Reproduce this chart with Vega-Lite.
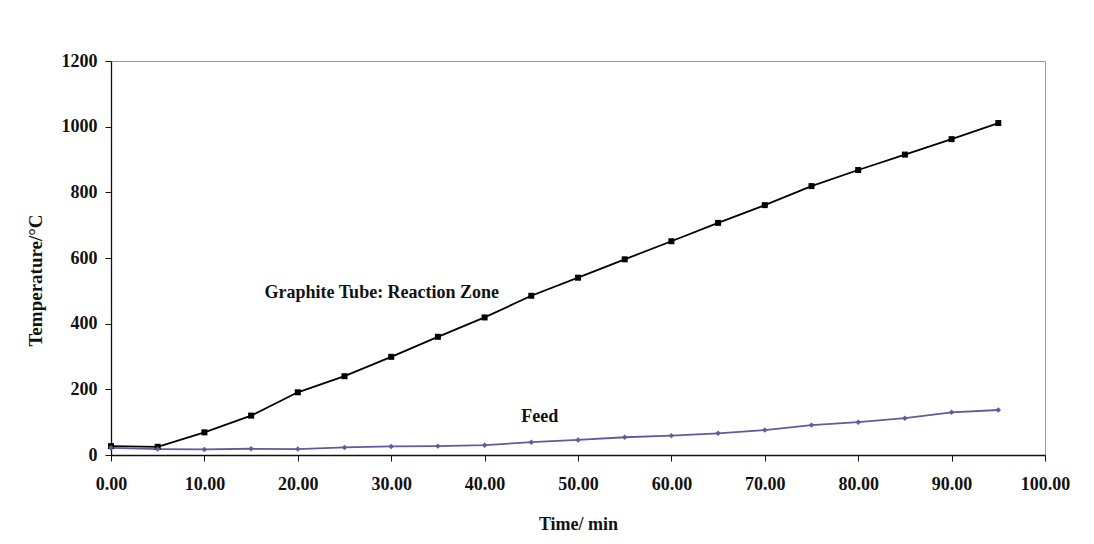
{
  "$schema": "https://vega.github.io/schema/vega-lite/v6.json",
  "width": 934,
  "height": 394,
  "autosize": "none",
  "padding": {"left": 111, "top": 61, "right": 49, "bottom": 89},
  "background": "white",
  "config": {
    "view": {"stroke": "#9a9a9a", "strokeWidth": 1},
    "font": "Liberation Serif",
    "axis": {
      "labelFont": "Liberation Serif",
      "labelFontWeight": "bold",
      "labelFontSize": 18,
      "labelColor": "#111",
      "labelFlush": false,
      "titleFont": "Liberation Serif",
      "titleFontWeight": "bold",
      "titleFontSize": 18,
      "titleColor": "#111",
      "domainColor": "#111",
      "domainWidth": 1.3,
      "tickColor": "#111",
      "tickSize": 6,
      "grid": false
    }
  },
  "datasets": {
    "temps": [
      {"time": 0, "temp": 27, "series": "Graphite Tube: Reaction Zone"},
      {"time": 5, "temp": 25, "series": "Graphite Tube: Reaction Zone"},
      {"time": 10, "temp": 69, "series": "Graphite Tube: Reaction Zone"},
      {"time": 15, "temp": 120, "series": "Graphite Tube: Reaction Zone"},
      {"time": 20, "temp": 191, "series": "Graphite Tube: Reaction Zone"},
      {"time": 25, "temp": 240, "series": "Graphite Tube: Reaction Zone"},
      {"time": 30, "temp": 299, "series": "Graphite Tube: Reaction Zone"},
      {"time": 35, "temp": 360, "series": "Graphite Tube: Reaction Zone"},
      {"time": 40, "temp": 419, "series": "Graphite Tube: Reaction Zone"},
      {"time": 45, "temp": 485, "series": "Graphite Tube: Reaction Zone"},
      {"time": 50, "temp": 540, "series": "Graphite Tube: Reaction Zone"},
      {"time": 55, "temp": 596, "series": "Graphite Tube: Reaction Zone"},
      {"time": 60, "temp": 651, "series": "Graphite Tube: Reaction Zone"},
      {"time": 65, "temp": 707, "series": "Graphite Tube: Reaction Zone"},
      {"time": 70, "temp": 761, "series": "Graphite Tube: Reaction Zone"},
      {"time": 75, "temp": 819, "series": "Graphite Tube: Reaction Zone"},
      {"time": 80, "temp": 868, "series": "Graphite Tube: Reaction Zone"},
      {"time": 85, "temp": 915, "series": "Graphite Tube: Reaction Zone"},
      {"time": 90, "temp": 962, "series": "Graphite Tube: Reaction Zone"},
      {"time": 95, "temp": 1011, "series": "Graphite Tube: Reaction Zone"},
      {"time": 0, "temp": 22, "series": "Feed"},
      {"time": 5, "temp": 18, "series": "Feed"},
      {"time": 10, "temp": 17, "series": "Feed"},
      {"time": 15, "temp": 19, "series": "Feed"},
      {"time": 20, "temp": 18, "series": "Feed"},
      {"time": 25, "temp": 23, "series": "Feed"},
      {"time": 30, "temp": 26, "series": "Feed"},
      {"time": 35, "temp": 27, "series": "Feed"},
      {"time": 40, "temp": 30, "series": "Feed"},
      {"time": 45, "temp": 39, "series": "Feed"},
      {"time": 50, "temp": 46, "series": "Feed"},
      {"time": 55, "temp": 54, "series": "Feed"},
      {"time": 60, "temp": 59, "series": "Feed"},
      {"time": 65, "temp": 66, "series": "Feed"},
      {"time": 70, "temp": 76, "series": "Feed"},
      {"time": 75, "temp": 91, "series": "Feed"},
      {"time": 80, "temp": 100, "series": "Feed"},
      {"time": 85, "temp": 112, "series": "Feed"},
      {"time": 90, "temp": 130, "series": "Feed"},
      {"time": 95, "temp": 137, "series": "Feed"}
    ],
    "labels": [
      {"time": 29, "temp": 493, "label": "Graphite Tube: Reaction Zone"},
      {"time": 45.9, "temp": 116, "label": "Feed"}
    ]
  },
  "encoding": {
    "x": {
      "field": "time",
      "type": "quantitative",
      "scale": {"domain": [0, 100], "nice": false, "zero": true},
      "axis": {"values": [0, 10, 20, 30, 40, 50, 60, 70, 80, 90, 100], "format": ".2f", "title": "Time/ min", "labelPadding": 14, "titlePadding": 22}
    },
    "y": {
      "field": "temp",
      "type": "quantitative",
      "scale": {"domain": [0, 1200], "nice": false},
      "axis": {"values": [0, 200, 400, 600, 800, 1000, 1200], "format": "d", "title": "Temperature/°C", "titleFontSize": 19, "titleY": 219, "labelPadding": 8, "titlePadding": 16}
    }
  },
  "layer": [
    {
      "data": {"name": "temps"},
      "mark": {"type": "line", "strokeWidth": 1.8, "point": false},
      "encoding": {
        "detail": {"field": "series"},
        "color": {"field": "series", "type": "nominal", "scale": {"domain": ["Graphite Tube: Reaction Zone", "Feed"], "range": ["#000000", "#5c5c9e"]}, "legend": null}
      }
    },
    {
      "data": {"name": "temps"},
      "mark": {"type": "point", "filled": true, "opacity": 1},
      "encoding": {
        "color": {"field": "series", "type": "nominal", "scale": {"domain": ["Graphite Tube: Reaction Zone", "Feed"], "range": ["#000000", "#5c5c9e"]}, "legend": null},
        "shape": {"field": "series", "type": "nominal", "scale": {"domain": ["Graphite Tube: Reaction Zone", "Feed"], "range": ["square", "diamond"]}, "legend": null},
        "size": {"field": "series", "type": "nominal", "scale": {"domain": ["Graphite Tube: Reaction Zone", "Feed"], "range": [36, 30]}, "legend": null}
      }
    },
    {
      "data": {"name": "labels"},
      "mark": {"type": "text", "font": "Liberation Serif", "fontWeight": "bold", "fontSize": 18, "color": "#111", "align": "center", "baseline": "middle"},
      "encoding": {"text": {"field": "label"}}
    }
  ]
}
